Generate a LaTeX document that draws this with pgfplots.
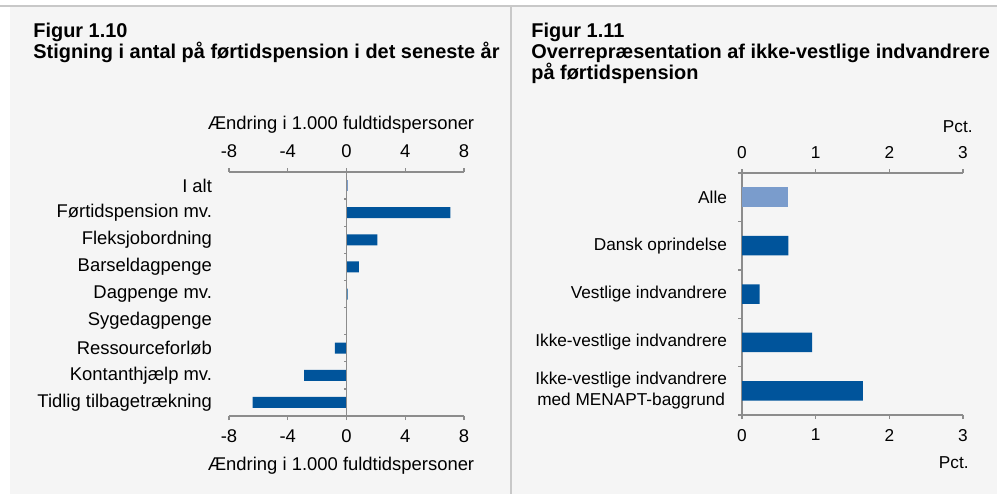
\documentclass[border=0pt]{standalone}
\usepackage{pgfplots}
\pgfplotsset{compat=1.18}
\usepackage{fontspec}
\setmainfont{Liberation Sans}
\definecolor{bg}{RGB}{245,245,245}
\definecolor{dblue}{RGB}{0,84,155}
\definecolor{lblue}{RGB}{122,156,204}
\definecolor{axgray}{RGB}{140,140,140}
\definecolor{framec}{RGB}{200,200,200}
\newcommand{\fL}{\fontsize{9.25}{11}\selectfont}
\newcommand{\fR}{\fontsize{8.65}{10.4}\selectfont}
\newcommand{\fT}{\fontsize{10}{12}\selectfont\bfseries}
\pgfplotsset{
  common/.style={
    scale only axis, anchor=north west, clip=false,
    tick align=outside, major tick length=2bp,
    x axis line style={axgray, line width=0.7bp, -},
    y axis line style={axgray, line width=0.7bp, -},
    xtick style={axgray, line width=0.7bp},
    /pgf/number format/assume math mode=true,
  }
}
\begin{document}
\begin{tikzpicture}[x=0.5bp,y=-0.5bp]
\path[use as bounding box] (0,0) rectangle (997,494);
\fill[white] (0,0) rectangle (997,494);
\fill[bg] (10,7) rectangle (997,494);
\draw[framec, line width=1bp] (0,6.5) -- (997,6.5);
\draw[framec, line width=1bp] (510.5,7) -- (510.5,494);
% titles
\node[anchor=base west, inner sep=0, font=\fT] at (33,38) {Figur 1.10};
\node[anchor=base west, inner sep=0, font=\fT] at (33,59) {Stigning i antal på førtidspension i det seneste år};
\node[anchor=base west, inner sep=0, font=\fT] at (531,38) {Figur 1.11};
\node[anchor=base west, inner sep=0, font=\fT] at (531,59) {Overrepræsentation af ikke-vestlige indvandrere};
\node[anchor=base west, inner sep=0, font=\fT] at (531,80) {på førtidspension};
% axis labels
\node[inner sep=0, font=\fL] at (341,125) {Ændring i 1.000 fuldtidspersoner};
\node[inner sep=0, font=\fL] at (341,466) {Ændring i 1.000 fuldtidspersoner};
\node[anchor=east, inner sep=0, font=\fR] at (973,127) {Pct.};
\node[anchor=east, inner sep=0, font=\fR] at (969,463) {Pct.};

% ---------- left chart ----------
\begin{axis}[common,
  at={(114.5bp,-86bp)}, width=117.5bp, height=122bp,
  xmin=-8, xmax=8, ymin=-0.5, ymax=8.5, y dir=reverse,
  axis x line*=top, axis y line*=left,
  y axis line style={draw=none},
  xtick={-8,-4,0,4,8},
  ytick={0,...,8}, ytick style={draw=none},
  yticklabels={I alt, Førtidspension mv., Fleksjobordning, Barseldagpenge, Dagpenge mv., Sygedagpenge, Ressourceforløb, Kontanthjælp mv., Tidlig tilbagetrækning},
  yticklabel style={font=\fL, xshift=-3bp},
  xticklabel style={font=\fL, yshift=1.5bp},
]
\addplot[xbar, bar shift=0pt, bar width=5.5bp, fill=lblue, draw=none] coordinates {(0.1,0)};
\addplot[xbar, bar shift=0pt, bar width=5.5bp, fill=dblue, draw=none] coordinates {
  (7.07,1) (2.1,2) (0.84,3) (0.08,4) (0,5) (-0.8,6) (-2.88,7) (-6.4,8)};
\draw[axgray, line width=0.7bp] (axis cs:0,-0.5) -- (axis cs:0,8.5);
\draw[axgray, line width=0.7bp] (axis cs:0,0.5) -- ++(-1.5bp,0pt);
\draw[axgray, line width=0.7bp] (axis cs:0,1.5) -- ++(-1.5bp,0pt);
\draw[axgray, line width=0.7bp] (axis cs:0,2.5) -- ++(-1.5bp,0pt);
\draw[axgray, line width=0.7bp] (axis cs:0,3.5) -- ++(-1.5bp,0pt);
\draw[axgray, line width=0.7bp] (axis cs:0,4.5) -- ++(-1.5bp,0pt);
\draw[axgray, line width=0.7bp] (axis cs:0,5.5) -- ++(-1.5bp,0pt);
\draw[axgray, line width=0.7bp] (axis cs:0,6.5) -- ++(-1.5bp,0pt);
\draw[axgray, line width=0.7bp] (axis cs:0,7.5) -- ++(-1.5bp,0pt);
\end{axis}
\begin{axis}[common,
  at={(114.5bp,-86bp)}, width=117.5bp, height=122bp,
  xmin=-8, xmax=8, ymin=0, ymax=1,
  axis x line*=bottom, axis y line=none,
  xtick={-8,-4,0,4,8},
  xticklabel style={font=\fL, yshift=-1.5bp},
]
\addplot[draw=none] coordinates {(0,0.5)};
\end{axis}

% ---------- right chart ----------
\begin{axis}[common,
  at={(371bp,-86.5bp)}, width=110.5bp, height=121bp,
  xmin=0, xmax=3, ymin=-0.5, ymax=4.5, y dir=reverse,
  axis x line*=top, axis y line*=left,
  xtick={0,1,2,3},
  ytick={0,...,4},
  every major y tick/.append style={draw=none},
  minor ytick={-0.5,0.5,1.5,2.5,3.5,4.5},
  minor tick length=2bp,
  every minor y tick/.append style={axgray, line width=0.7bp},
  yticklabels={Alle, Dansk oprindelse, Vestlige indvandrere, Ikke-vestlige indvandrere, {Ikke-vestlige indvandrere\\med MENAPT-baggrund}},
  yticklabel style={font=\fR, align=center, xshift=-2bp},
  xticklabel style={font=\fR, yshift=1.5bp},
]
\addplot[xbar, bar shift=0pt, bar width=9.75bp, fill=lblue, draw=none] coordinates {(0.63,0)};
\addplot[xbar, bar shift=0pt, bar width=9.75bp, fill=dblue, draw=none] coordinates {
  (0.63,1) (0.24,2) (0.95,3) (1.64,4)};
\end{axis}
\begin{axis}[common,
  at={(371bp,-86.5bp)}, width=110.5bp, height=121bp,
  xmin=0, xmax=3, ymin=0, ymax=1,
  axis x line*=bottom, axis y line=none,
  xtick={0,1,2,3},
  xticklabel style={font=\fR, yshift=-1.5bp},
]
\addplot[draw=none] coordinates {(0,0.5)};
\end{axis}
\end{tikzpicture}
\end{document}
